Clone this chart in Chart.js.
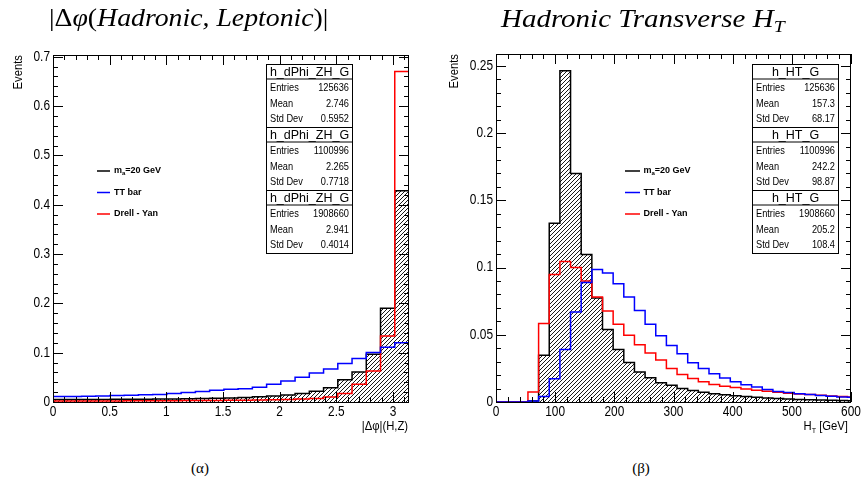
<!DOCTYPE html>
<html>
<head>
<meta charset="utf-8">
<script src="https://cdn.jsdelivr.net/npm/chart.js@4.4.1/dist/chart.umd.min.js"></script>
<style>
  html, body { margin: 0; padding: 0; background: #fff; }
  #page { position: relative; width: 861px; height: 496px; overflow: hidden; }
  canvas { position: absolute; top: 0; }
  .title { position: absolute; font-family: "Liberation Serif", serif; font-style: italic; font-size: 25px; line-height: 25px; white-space: nowrap; transform-origin: 0 0; }
  .title .up { font-style: normal; }
  .title sub { font-size: 17px; vertical-align: -5px; line-height: 0; }
  .caption { position: absolute; width: 40px; text-align: center; font-family: "Liberation Serif", serif; font-size: 15px; line-height: 15px; }
</style>
</head>
<body>
<div id="page">
  <canvas id="dphiChart" width="430" height="440" style="left:0"></canvas>
  <canvas id="htChart" width="431" height="440" style="left:430px"></canvas>
  <div class="title" style="left:49px; top:5px" data-w="280"><span class="up">|Δ</span>φ<span class="up">(</span>Hadronic, Leptonic<span class="up">)|</span></div>
  <div class="title" style="left:501px; top:6px" data-w="284">Hadronic Transverse H<sub>T</sub></div>
  <div class="caption" style="left:180px; top:461px">(α)</div>
  <div class="caption" style="left:621px; top:461px">(β)</div>
</div>
<script>
// |Δφ| between hadronic and leptonic systems: 25 bins on [0, π]
const dphiBinCount = 25;
const dphiSignal = [0.0050, 0.0051, 0.0052, 0.0053, 0.0054, 0.0056, 0.0058, 0.0060, 0.0063, 0.0066,
                    0.0070, 0.0075, 0.0082, 0.0090, 0.0105, 0.0120, 0.0140, 0.0170, 0.0220, 0.0290,
                    0.0450, 0.0610, 0.0966, 0.1900, 0.4285];
const dphiTTbar = [0.0112, 0.0114, 0.0117, 0.0121, 0.0131, 0.0137, 0.0145, 0.0153, 0.0170, 0.0194,
                   0.0215, 0.0236, 0.0256, 0.0270, 0.0300, 0.0358, 0.0426, 0.0500, 0.0590, 0.0670,
                   0.0780, 0.0880, 0.1006, 0.1110, 0.1200];
const dphiDY = [0.0020, 0.0020, 0.0021, 0.0021, 0.0022, 0.0023, 0.0024, 0.0025, 0.0026, 0.0028,
                0.0030, 0.0032, 0.0035, 0.0038, 0.0042, 0.0047, 0.0053, 0.0060, 0.0070, 0.0100,
                0.0170, 0.0360, 0.0630, 0.1340, 0.6700];

// hadronic H_T: 18 GeV bins, shown up to 600 GeV
const htBinWidth = 18;
const htMax = 600;
const htSignal = [0, 0, 0, 0.0008, 0.0347, 0.1330, 0.2463, 0.1700, 0.1097, 0.0774,
                  0.0539, 0.0390, 0.0293, 0.0223, 0.0180, 0.0143, 0.0124, 0.0100, 0.0085, 0.0073,
                  0.0062, 0.0053, 0.0046, 0.0040, 0.0035, 0.0030, 0.0026, 0.0022, 0.0019, 0.0017,
                  0.0015, 0.0013, 0.0011, 0.0010];
const htTTbar = [0, 0, 0, 0.0008, 0.0040, 0.0172, 0.0390, 0.0670, 0.0888, 0.0985,
                 0.0960, 0.0880, 0.0780, 0.0680, 0.0578, 0.0492, 0.0420, 0.0358, 0.0292, 0.0250,
                 0.0211, 0.0179, 0.0150, 0.0128, 0.0111, 0.0093, 0.0078, 0.0070, 0.0062, 0.0055,
                 0.0048, 0.0042, 0.0037, 0.0035];
const htDY = [0, 0, 0, 0.0074, 0.0583, 0.0948, 0.1045, 0.1000, 0.0900, 0.0780,
              0.0677, 0.0578, 0.0496, 0.0425, 0.0365, 0.0312, 0.0250, 0.0205, 0.0175, 0.0150,
              0.0130, 0.0117, 0.0107, 0.0097, 0.0088, 0.0080, 0.0072, 0.0066, 0.0060, 0.0055,
              0.0050, 0.0045, 0.0041, 0.0037];

// legend and stat-box contents
const sampleNames = ['m_a=20 GeV', 'TT bar', 'Drell - Yan'];
const sampleColors = ['#000000', '#0000ff', '#ff0000'];
const statEntries = [125636, 1100996, 1908660];
const dphiMean = [2.746, 2.265, 2.941];
const dphiStd = [0.5952, 0.7718, 0.4014];
const htMean = [157.3, 242.2, 205.2];
const htStd = [68.17, 98.87, 108.4];

// axis labels
const dphiXTicks = [0, 0.5, 1, 1.5, 2, 2.5, 3];
const dphiYTicks = [0, 0.1, 0.2, 0.3, 0.4, 0.5, 0.6, 0.7];
const htXTicks = [0, 100, 200, 300, 400, 500, 600];
const htYTicks = [0, 0.05, 0.1, 0.15, 0.2, 0.25];

const dphiEdges = [];
for (let k = 0; k <= dphiBinCount; k++) dphiEdges.push(k * Math.PI / dphiBinCount);
const htEdges = [];
for (let k = 0; k <= htSignal.length; k++) htEdges.push(Math.min(k * htBinWidth, htMax));

const SANS = '"Liberation Sans", Arial, sans-serif';

// "////" hatching like ROOT fill style 3004
function makeHatch() {
  const s = 4;
  const c = document.createElement('canvas');
  c.width = s; c.height = s;
  const g = c.getContext('2d');
  g.strokeStyle = '#000';
  g.lineWidth = 0.9;
  g.beginPath();
  g.moveTo(-1, 1); g.lineTo(1, -1);
  g.moveTo(0, s); g.lineTo(s, 0);
  g.moveTo(s - 1, s + 1); g.lineTo(s + 1, s - 1);
  g.stroke();
  return g.createPattern(c, 'repeat');
}

// step outline of a histogram: one point per bin low edge, closed at the last edge
function histPoints(values, edges) {
  const pts = [{ x: edges[0], y: 0 }];
  values.forEach((v, i) => pts.push({ x: edges[i], y: v }));
  pts.push({ x: edges[values.length], y: values[values.length - 1] });
  return pts;
}

function histDataset(label, values, edges, color, pattern) {
  return {
    label: label,
    data: histPoints(values, edges),
    borderColor: color,
    borderWidth: 1.5,
    stepped: 'before',
    pointRadius: 0,
    fill: pattern ? 'origin' : false,
    backgroundColor: pattern || 'transparent'
  };
}

// draws text squeezed horizontally, returns drawn width
function sqText(ctx, str, x, y, align, sx) {
  const w = ctx.measureText(str).width * sx;
  const x0 = align === 'right' ? x - w : align === 'center' ? x - w / 2 : x;
  ctx.save();
  ctx.translate(x0, y);
  ctx.scale(sx, 1);
  ctx.textAlign = 'left';
  ctx.fillText(str, 0, 0);
  ctx.restore();
  return w;
}

// frame, ticks on all four sides, labels, legend and stat boxes
const rootPad = {
  id: 'rootPad',
  afterDraw(chart, args, o) {
    const ctx = chart.ctx;
    const { left, right, top, bottom } = chart.chartArea;
    const xs = chart.scales.x, ys = chart.scales.y;
    ctx.save();
    ctx.strokeStyle = '#000';
    ctx.fillStyle = '#000';
    ctx.lineWidth = 1;

    // frame
    ctx.strokeRect(Math.round(left) + 0.5, Math.round(top) + 0.5, Math.round(right - left) - 1, Math.round(bottom - top));

    // ticks
    ctx.beginPath();
    const xTick = (v, len) => {
      const px = Math.round(xs.getPixelForValue(v)) + 0.5;
      ctx.moveTo(px, bottom); ctx.lineTo(px, bottom - len);
      ctx.moveTo(px, top); ctx.lineTo(px, top + len);
    };
    const yTick = (v, len) => {
      const py = Math.round(ys.getPixelForValue(v)) + 0.5;
      ctx.moveTo(left, py); ctx.lineTo(left + len, py);
      ctx.moveTo(right, py); ctx.lineTo(right - len, py);
    };
    for (let v = 0; v <= xs.max + 1e-9; v += o.xMinor) xTick(v, 5);
    for (let v = 0; v <= ys.max + 1e-9; v += o.yMinor) yTick(v, 5);
    o.xTicks.forEach(v => xTick(v, 10));
    o.yTicks.forEach(v => yTick(v, 10));
    ctx.stroke();

    // tick labels
    ctx.font = '14px ' + SANS;
    ctx.textBaseline = 'middle';
    o.yTicks.forEach(v => sqText(ctx, String(v), left - 3, ys.getPixelForValue(v), 'right', 0.85));
    ctx.textBaseline = 'top';
    o.xTicks.forEach(v => sqText(ctx, String(v), xs.getPixelForValue(v), bottom + 3, 'center', 0.85));

    // axis titles
    ctx.font = '12.5px ' + SANS;
    ctx.save();
    ctx.translate(o.yTitleX, top);
    ctx.rotate(-Math.PI / 2);
    ctx.textBaseline = 'middle';
    sqText(ctx, 'Events', 0, 0, 'right', 0.9);
    ctx.restore();
    ctx.textBaseline = 'alphabetic';
    o.drawXTitle(ctx, right - 1, bottom + 28);

    // legend
    sampleNames.forEach((name, i) => {
      const y = o.legend.y[i];
      ctx.strokeStyle = sampleColors[i];
      ctx.lineWidth = 1.5;
      ctx.beginPath();
      ctx.moveTo(o.legend.x1, y); ctx.lineTo(o.legend.x2, y);
      ctx.stroke();
      ctx.fillStyle = '#000';
      ctx.textBaseline = 'middle';
      let tx = o.legend.tx;
      ctx.font = 'bold 9px ' + SANS;
      if (name.startsWith('m_a')) {
        tx += sqText(ctx, 'm', tx, y, 'left', 1);
        ctx.font = 'bold 6px ' + SANS;
        tx += sqText(ctx, 'a', tx, y + 2, 'left', 1);
        ctx.font = 'bold 9px ' + SANS;
        sqText(ctx, name.slice(3), tx, y, 'left', 1);
      } else {
        sqText(ctx, name, tx, y, 'left', 1);
      }
    });

    // stat boxes
    const b = o.box;
    ctx.strokeStyle = '#000';
    ctx.lineWidth = 1;
    o.stats.forEach((st, k) => {
      const y0 = Math.round(b.top + k * b.h) + 0.5;
      ctx.fillStyle = '#fff';
      ctx.fillRect(b.x, y0, b.w, b.h);
      ctx.strokeRect(b.x + 0.5, y0, b.w, Math.round(b.h));
      ctx.beginPath();
      ctx.moveTo(b.x, y0 + b.titleH); ctx.lineTo(b.x + b.w, y0 + b.titleH);
      ctx.stroke();
      ctx.fillStyle = '#000';
      ctx.textBaseline = 'middle';
      ctx.font = '12.5px ' + SANS;
      sqText(ctx, o.histName, b.x + b.w / 2 + 0.5, y0 + b.titleH / 2 + 0.5, 'center', 1);
      ctx.font = '10.5px ' + SANS;
      st.forEach((row, r) => {
        const ry = y0 + b.rowY[r];
        sqText(ctx, row[0], b.x + 4, ry, 'left', 0.88);
        sqText(ctx, String(row[1]), b.x + b.w - 3, ry, 'right', 0.88);
      });
    });
    ctx.restore();
  }
};

const statRows = (means, stds) => statEntries.map((n, i) => [['Entries', n], ['Mean', means[i]], ['Std Dev', stds[i]]]);
const hatch = makeHatch();

function padOptions(cfg) {
  return {
    responsive: false,
    animation: false,
    events: [],
    layout: { padding: { top: cfg.top, right: cfg.right, left: 0, bottom: 0 } },
    scales: {
      x: {
        type: 'linear', min: 0, max: cfg.xMax,
        grid: { display: false }, border: { display: false }, ticks: { display: false },
        afterFit: s => { s.height = cfg.xHeight; }
      },
      y: {
        type: 'linear', min: 0, max: cfg.yMax,
        grid: { display: false }, border: { display: false }, ticks: { display: false },
        afterFit: s => { s.width = cfg.yWidth; }
      }
    },
    plugins: { legend: { display: false }, tooltip: { enabled: false }, rootPad: cfg.pad }
  };
}

new Chart(document.getElementById('dphiChart'), {
  type: 'line',
  data: {
    datasets: [
      histDataset(sampleNames[1], dphiTTbar, dphiEdges, sampleColors[1]),
      histDataset(sampleNames[2], dphiDY, dphiEdges, sampleColors[2]),
      histDataset(sampleNames[0], dphiSignal, dphiEdges, sampleColors[0], hatch)
    ]
  },
  options: padOptions({
    top: 55, right: 21, xHeight: 38, yWidth: 53, xMax: Math.PI, yMax: 0.7035,
    pad: {
      xTicks: dphiXTicks, yTicks: dphiYTicks, xMinor: 0.1, yMinor: 0.02,
      yTitleX: 19,
      drawXTitle(ctx, x, y) {
        ctx.font = '12.5px ' + SANS;
        sqText(ctx, '|Δφ|(H,Z)', x, y, 'right', 0.9);
      },
      legend: { x1: 97, x2: 110, tx: 114, y: [171, 192.5, 214] },
      histName: 'h_dPhi_ZH_G',
      box: { x: 266, w: 86, top: 64, h: 63.2, titleH: 14.5, rowY: [24, 39.5, 55] },
      stats: statRows(dphiMean, dphiStd)
    }
  }),
  plugins: [rootPad]
});

new Chart(document.getElementById('htChart'), {
  type: 'line',
  data: {
    datasets: [
      histDataset(sampleNames[1], htTTbar, htEdges, sampleColors[1]),
      histDataset(sampleNames[2], htDY, htEdges, sampleColors[2]),
      histDataset(sampleNames[0], htSignal, htEdges, sampleColors[0], hatch)
    ]
  },
  options: padOptions({
    top: 54, right: 10, xHeight: 38, yWidth: 66, xMax: htMax, yMax: 0.2588,
    pad: {
      xTicks: htXTicks, yTicks: htYTicks, xMinor: 20, yMinor: 0.01,
      yTitleX: 25,
      drawXTitle(ctx, x, y) {
        const rest = ' [GeV]';
        ctx.font = '8px ' + SANS;
        const wSub = ctx.measureText('T').width * 0.9;
        ctx.font = '12.5px ' + SANS;
        const wRest = ctx.measureText(rest).width * 0.9;
        const wH = ctx.measureText('H').width * 0.9;
        let tx = x - 2 - wRest - wSub - wH;
        tx += sqText(ctx, 'H', tx, y, 'left', 0.9);
        ctx.font = '8px ' + SANS;
        tx += sqText(ctx, 'T', tx, y + 3, 'left', 0.9);
        ctx.font = '12.5px ' + SANS;
        sqText(ctx, rest, tx, y, 'left', 0.9);
      },
      legend: { x1: 195, x2: 210, tx: 213.5, y: [171, 192.5, 214] },
      histName: 'h_HT_G',
      box: { x: 322, w: 86, top: 64, h: 63.2, titleH: 14.5, rowY: [24, 39.5, 55] },
      stats: statRows(htMean, htStd)
    }
  }),
  plugins: [rootPad]
});

// fit the italic headings to their widths
document.querySelectorAll('.title').forEach(el => {
  const target = parseFloat(el.dataset.w);
  el.style.transform = 'scaleX(' + (target / el.offsetWidth) + ')';
});
</script>
</body>
</html>
